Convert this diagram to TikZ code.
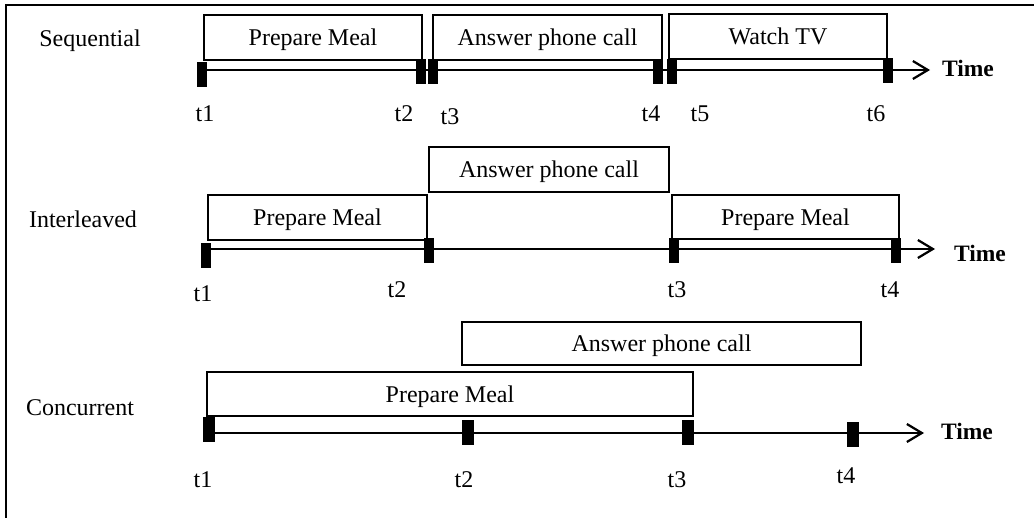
\documentclass[tikz,border=0pt]{standalone}
\usepackage{fontspec}
\setmainfont{Liberation Serif}
\usetikzlibrary{arrows.meta}
\begin{document}
\begin{tikzpicture}[x=1pt,y=-1pt,
  every node/.style={inner sep=0pt, outer sep=0pt, font=\fontsize{24}{28}\selectfont},
  task/.style={draw, line width=1.5pt, text height=19pt, text depth=2pt},
  tickmark/.style={fill=black, minimum width=10pt, minimum height=25pt},
  axisline/.style={line width=2pt, -{Straight Barb[length=15pt,width=18pt,line width=2.2pt]}},
  lbl/.style={anchor=base},
  timelbl/.style={anchor=base, font=\fontsize{23.5}{28}\selectfont\bfseries},
  framel/.style={line width=2.5pt}
]
\useasboundingbox (0,0) rectangle (1034,518);
% frame
\coordinate (fa) at (6,518);
\coordinate (fb) at (6,5);
\coordinate (fc) at (1034,5);
\draw[framel] (fa) -- (fb) -- (fc);

% ---------- Sequential ----------
\node[lbl] (lseq) at (90,47) {Sequential};
\node[task, minimum width=218pt, minimum height=45pt] (s1) at (313,37.5) {Prepare Meal};
\node[task, minimum width=229pt, minimum height=45pt] (s2) at (547.5,37.5) {Answer phone call};
\node[task, minimum width=218pt, minimum height=45pt] (s3) at (778,36.5) {Watch TV};
\coordinate (as) at (202,70);
\coordinate (ae) at (930,70);
\draw[axisline] (as) -- (ae);
\node[tickmark] (st1) at (202,74.5) {};
\node[tickmark] (st2) at (420.5,72) {};
\node[tickmark] (st3) at (432.5,72) {};
\node[tickmark] (st4) at (657.5,72) {};
\node[tickmark] (st5) at (671.5,72) {};
\node[tickmark] (st6) at (888,71) {};
\node[lbl] (sl1) at (205,122) {t1};
\node[lbl] (sl2) at (404,122) {t2};
\node[lbl] (sl3) at (450,125) {t3};
\node[lbl] (sl4) at (651,122) {t4};
\node[lbl] (sl5) at (700,122) {t5};
\node[lbl] (sl6) at (876,122) {t6};
\node[timelbl] (stime) at (968,77) {Time};

% ---------- Interleaved ----------
\node[lbl] (lint) at (83,228) {Interleaved};
\node[task, minimum width=240pt, minimum height=45pt] (i2) at (549,169.5) {Answer phone call};
\node[task, minimum width=219pt, minimum height=45pt] (i1) at (317.5,217.5) {Prepare Meal};
\node[task, minimum width=227pt, minimum height=44pt] (i3) at (785.5,217) {Prepare Meal};
\coordinate (bs) at (206,249);
\coordinate (be) at (935,249);
\draw[axisline] (bs) -- (be);
\node[tickmark] (it1) at (206,255.5) {};
\node[tickmark] (it2) at (428.5,250.5) {};
\node[tickmark] (it3) at (673.5,250.5) {};
\node[tickmark] (it4) at (896,250.5) {};
\node[lbl] (il1) at (203,302) {t1};
\node[lbl] (il2) at (397,298) {t2};
\node[lbl] (il3) at (677,298) {t3};
\node[lbl] (il4) at (890,298) {t4};
\node[timelbl] (itime) at (980,262) {Time};

% ---------- Concurrent ----------
\node[lbl] (lcon) at (80,416) {Concurrent};
\node[task, minimum width=399pt, minimum height=43pt] (c2) at (661.5,343.5) {Answer phone call};
\node[task, minimum width=486pt, minimum height=44pt] (c1) at (450,394) {Prepare Meal};
\coordinate (cs) at (209,433);
\coordinate (ce) at (924,433);
\draw[axisline] (cs) -- (ce);
\node[tickmark, minimum width=12pt] (ct1) at (209,429.5) {};
\node[tickmark, minimum width=12pt] (ct2) at (468,432.5) {};
\node[tickmark, minimum width=12pt] (ct3) at (688,432.5) {};
\node[tickmark, minimum width=12pt] (ct4) at (853,434.5) {};
\node[lbl] (cl1) at (203,487) {t1};
\node[lbl] (cl2) at (464,487) {t2};
\node[lbl] (cl3) at (677,487) {t3};
\node[lbl] (cl4) at (846,483) {t4};
\node[timelbl] (ctime) at (967,440) {Time};
\end{tikzpicture}
\end{document}
